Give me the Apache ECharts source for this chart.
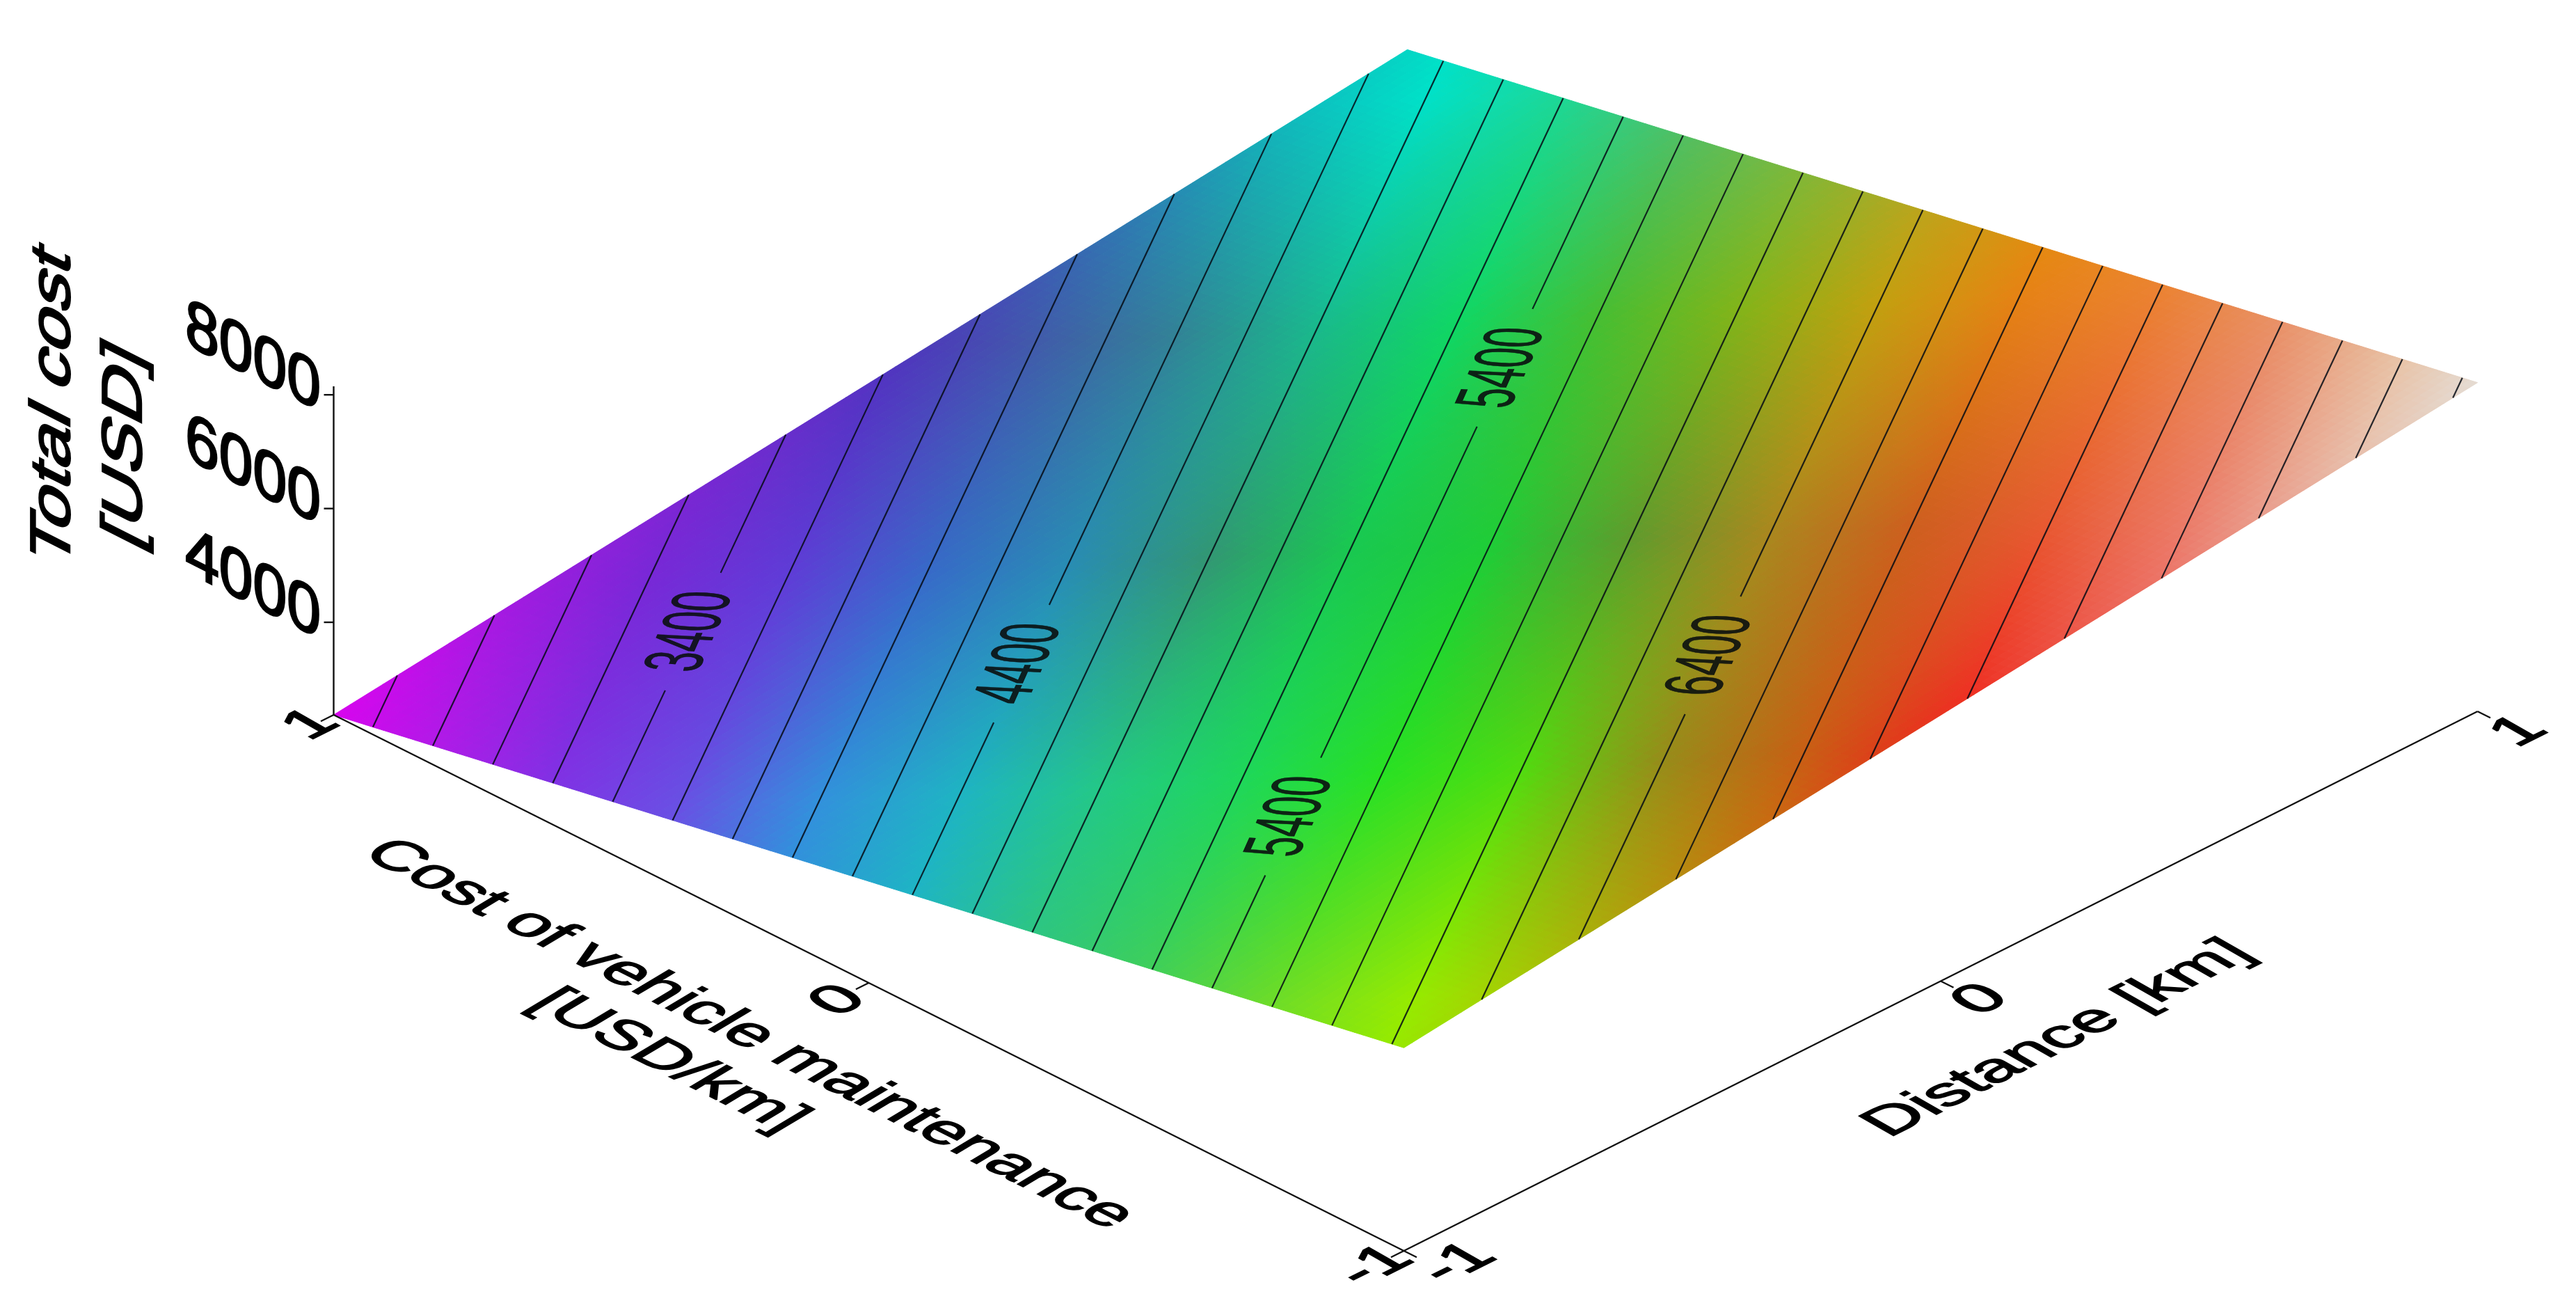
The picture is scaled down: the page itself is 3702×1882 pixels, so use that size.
<!DOCTYPE html>
<html><head><meta charset="utf-8">
<style>html,body{margin:0;padding:0;background:#fff}#c{width:3702px;height:1882px}</style>
<script src="https://cdn.jsdelivr.net/npm/echarts@6/dist/echarts.min.js"></script>
</head><body><div id="c"></div>
<script>
// ---- data ----
const maintenanceValues = [1, 0, -1];
const distanceValues = [-1, 0, 1];
const totalCost = [          // rows: maintenance, columns: distance
  [2469, 3575, 4680],
  [4255, 5360, 6465],
  [6040, 7146, 8251]
];
const contourLevels = [2600,2800,3000,3200,3400,3600,3800,4000,4200,4400,4600,4800,5000,5200,5400,5600,5800,6000,6200,6400,6600,6800,7000,7200,7400,7600,7800,8000,8200];
const contourLabelLevels = [3400, 4400, 5400, 5400, 6400];
const contourLabelDistance = [-0.6096, -0.4692, -0.6062, 0.4239, -0.0221];
const costTicks = [4000, 6000, 8000];
const maintenanceTicks = [1, 0, -1];
const distanceTicks = [-1, 0, 1];
// colour samples: rows follow colourCost, columns follow colourAcross
const colourCost = [2400,2800,3200,3600,4000,4400,4800,5200,5600,6000,6400,6800,7200,7600,8000,8300];
const colourAcross = [-0.9,-0.45,0,0.45,0.9];
const colourTable = [
 [[225,0,240],[225,0,240],[225,0,240],[225,0,240],[225,0,240]],
 [[185,25,235],[185,25,235],[165,25,225],[160,30,220],[160,30,220]],
 [[140,50,235],[130,50,230],[120,40,215],[125,35,205],[120,35,205]],
 [[105,85,230],[105,80,228],[95,60,215],[80,50,190],[80,50,190]],
 [[50,140,220],[50,145,220],[55,105,200],[65,90,170],[40,125,190]],
 [[30,180,200],[30,180,195],[40,140,180],[50,130,150],[15,185,190]],
 [[50,195,130],[35,200,135],[50,150,115],[25,185,140],[0,225,200]],
 [[70,205,90],[30,215,90],[25,200,80],[15,215,100],[30,215,150]],
 [[110,220,40],[40,225,35],[30,205,55],[70,190,50],[85,190,110]],
 [[150,235,0],[80,220,15],[95,155,45],[130,180,25],[130,185,75]],
 [[175,190,5],[150,140,25],[170,135,30],[195,160,15],[180,170,45]],
 [[205,130,10],[200,95,20],[205,95,30],[230,130,20],[225,160,5]],
 [[240,35,30],[240,35,30],[232,90,50],[235,130,50],[235,160,40]],
 [[240,95,100],[240,95,100],[235,125,105],[232,150,105],[232,170,95]],
 [[232,165,170],[232,165,170],[232,190,175],[232,200,165],[232,200,150]],
 [[228,225,220],[228,225,220],[228,225,220],[228,225,220],[228,225,220]]
];
const axisTitleCost = ['Total cost', '[USD]'];
const axisTitleMaintenance = ['Cost of vehicle maintenance', '[USD/km]'];
const axisTitleDistance = ['Distance [km]'];

// ---- oblique projection of the 3D axes onto a hidden pixel-sized cartesian system ----
const W = 3702, H = 1882;
const ORIGIN = [2020, 1024.5], M_VEC = [-769, -385], D_VEC = [771.5, -387.5], Z_PER_UNIT = 0.0817;
const Z_BASE = totalCost[0][0], Z_AXIS_BASE = 2372, Z_AXIS_TOP = 8150;
function project(m, d, z) {
  return [ORIGIN[0] + m * M_VEC[0] + d * D_VEC[0],
          ORIGIN[1] + m * M_VEC[1] + d * D_VEC[1] - (z - Z_BASE) * Z_PER_UNIT];
}
function zAxisPoint(v) { return project(1, -1, Z_BASE + v - Z_AXIS_BASE); }

function costAt(m, d) { // bilinear over the 3x3 table
  const fi = Math.min(1.9999, Math.max(0, 1 - m)), fj = Math.min(1.9999, Math.max(0, d + 1));
  const i = Math.floor(fi), j = Math.floor(fj), a = fi - i, b = fj - j;
  return (1-a)*(1-b)*totalCost[i][j] + (1-a)*b*totalCost[i][j+1] + a*(1-b)*totalCost[i+1][j] + a*b*totalCost[i+1][j+1];
}
const slopeM = (totalCost[0][1] - totalCost[2][1]) / 2, slopeD = (totalCost[1][2] - totalCost[1][0]) / 2;
function acrossAt(m, d) { return (m * slopeD - d * slopeM) / (Math.abs(slopeD) + Math.abs(slopeM)); }
function locate(arr, v) {
  let i = 0; while (i < arr.length - 2 && v > arr[i+1]) i++;
  return [i, Math.max(0, Math.min(1, (v - arr[i]) / (arr[i+1] - arr[i])))];
}
function colourAt(m, d) {
  const [i, a] = locate(colourCost, costAt(m, d)), [j, b] = locate(colourAcross, acrossAt(m, d));
  const c = [0,1,2].map(k => Math.round((1-a)*(1-b)*colourTable[i][j][k] + (1-a)*b*colourTable[i][j+1][k] + a*(1-b)*colourTable[i+1][j][k] + a*b*colourTable[i+1][j+1][k]));
  return 'rgb(' + c.join(',') + ')';
}

// surface cells
const N = 130, cells = [];
for (let i = 0; i < N; i++) for (let j = 0; j < N; j++) {
  const m0 = 1 - 2*i/N, m1 = 1 - 2*(i+1)/N, d0 = -1 + 2*j/N, d1 = -1 + 2*(j+1)/N;
  cells.push({ pts: [[m0,d0],[m1,d0],[m1,d1],[m0,d1]].map(p => project(p[0], p[1], costAt(p[0], p[1]))),
               fill: colourAt((m0+m1)/2, (d0+d1)/2) });
}

// contour segments, found where each level crosses the cost table's grid
const GAP = 0.135, contourSegs = [];
function crossing(m0,d0,m1,d1,L) {
  const z0 = costAt(m0,d0), z1 = costAt(m1,d1);
  if ((z0 - L) * (z1 - L) > 0 || z0 === z1) return null;
  const t = (L - z0) / (z1 - z0);
  return [m0 + (m1-m0)*t, d0 + (d1-d0)*t];
}
contourLevels.forEach(L => {
  const hits = [];
  [[1,-1,-1,-1],[-1,-1,-1,1],[-1,1,1,1],[1,1,1,-1]].forEach(e => {
    const p = crossing(e[0],e[1],e[2],e[3],L); if (p) hits.push(p);
  });
  if (hits.length < 2) return;
  let a = hits[0], b = hits[1];
  if (a[1] > b[1]) { const t = a; a = b; b = t; }
  const mAt = d => a[0] + (b[0]-a[0]) * (d - a[1]) / (b[1]-a[1]);
  const cuts = [];
  contourLabelLevels.forEach((lv, k) => { if (lv === L) cuts.push(contourLabelDistance[k]); });
  cuts.sort((x, y) => x - y);
  let start = a[1];
  cuts.forEach(c => {
    contourSegs.push([mAt(start), start, mAt(c - GAP), c - GAP, L]);
    start = c + GAP;
  });
  contourSegs.push([mAt(start), start, b[0], b[1], L]);
});

// axis lines + ticks
const TICK = 0.012, axisSegs = [];
axisSegs.push([zAxisPoint(Z_AXIS_BASE), zAxisPoint(Z_AXIS_TOP)]);
costTicks.forEach(v => { const p = zAxisPoint(v); axisSegs.push([p, [p[0] - 14, p[1]]]); });
axisSegs.push([project(1,-1,Z_BASE), project(-1,-1,Z_BASE)]);
axisSegs.push([project(-1,-1,Z_BASE), project(-1,1,Z_BASE)]);
maintenanceTicks.forEach(m => axisSegs.push([project(m,-1,Z_BASE), project(m,-1-TICK*2,Z_BASE)]));
distanceTicks.forEach(d => axisSegs.push([project(-1,d,Z_BASE), project(-1-TICK*2,d,Z_BASE)]));

// sheared text: u and v are the images of the text's x and y (down) per font pixel
const F = 100;
const SHEAR = {
  cost:  { u:[0.875,0.438],  v:[0,0.98] },
  costT: { u:[0,-1.07],      v:[0.81,0.41] },
  maintT:{ u:[0.858,0.429],  v:[-0.72,0.43] },
  dist:  { u:[0.87,-0.435],  v:[0.72,0.41] },
  label: { u:[0.23,-0.518],  v:[1.16,0.06] }
};
function shear(name) {
  const {u, v} = SHEAR[name];
  const th = Math.atan2(-u[1], u[0]), ct = Math.cos(th), st = Math.sin(th);
  const ac = v[0]*ct - v[1]*st, ad = v[0]*st + v[1]*ct;
  return { rotation: th, scaleX: Math.hypot(u[0],u[1]), scaleY: ad, skewX: Math.atan(ac/ad) };
}
const texts = [];
function addText(t, pos, name, fill, heavy) { texts.push({ t: String(t), pos, name, fill: fill || '#000', heavy }); }
costTicks.forEach(v => { const p = zAxisPoint(v); addText(v, [p[0]-116, p[1]-52], 'cost', '#000', 3); });
addText(axisTitleCost[0], [78, 584], 'costT', '#000', 3);
addText(axisTitleCost[1], [181, 640], 'costT', '#000', 3);
addText(axisTitleMaintenance[0], [1076, 1486], 'maintT', '#000', 2.5);
addText(axisTitleMaintenance[1], [961, 1524], 'maintT', '#000', 2.5);
addText(axisTitleDistance[0], [2958, 1492], 'dist', '#000', 2.5);
const mTickOffset = [[-32,14],[-43,26],[-41,22]];
maintenanceTicks.forEach((m,i) => { const p = project(m,-1,Z_BASE); addText(m, [p[0]+mTickOffset[i][0], p[1]+mTickOffset[i][1]], 'dist', '#000', 3); });
const dTickOffset = [[78,18],[58,27],[60,29]];
distanceTicks.forEach((d,i) => { const p = project(-1,d,Z_BASE); addText(d, [p[0]+dTickOffset[i][0], p[1]+dTickOffset[i][1]], 'dist', '#000', 3); });
contourLabelLevels.forEach((L,k) => {
  const d = contourLabelDistance[k];
  // maintenance value on this contour at the label's distance
  const m = (function(){ let lo=-1, hi=1; for(let n=0;n<40;n++){ const c=(lo+hi)/2; if(costAt(c,d)>L) lo=c; else hi=c; } return (lo+hi)/2; })();
  addText(L, project(m, d, L), 'label', 'rgba(10,15,15,0.9)', 0.8);
});

function idx(arr) { return arr.map((_, i) => [i, 0]); }
const chart = echarts.init(document.getElementById('c'), null, { renderer: 'canvas' });
chart.setOption({
  backgroundColor: '#ffffff',
  animation: false,
  grid: { left: 0, right: 0, top: 0, bottom: 0 },
  xAxis: { type: 'value', min: 0, max: W, show: false },
  yAxis: { type: 'value', min: 0, max: H, inverse: true, show: false },
  tooltip: { show: false },
  series: [
    { type: 'custom', coordinateSystem: 'cartesian2d', silent: true, progressive: 0, clip: false,
      data: idx(cells), z: 1,
      renderItem: (p, api) => {
        const c = cells[api.value(0)];
        return { type: 'polygon', shape: { points: c.pts.map(q => api.coord(q)) },
                 style: { fill: c.fill, stroke: c.fill, lineWidth: 1 } };
      } },
    { type: 'custom', coordinateSystem: 'cartesian2d', silent: true, progressive: 0, clip: false,
      data: idx(contourSegs), z: 2,
      renderItem: (p, api) => {
        const s = contourSegs[api.value(0)];
        const a = api.coord(project(s[0], s[1], s[4])), b = api.coord(project(s[2], s[3], s[4]));
        return { type: 'line', shape: { x1:a[0], y1:a[1], x2:b[0], y2:b[1] },
                 style: { stroke: 'rgba(5,10,20,0.85)', lineWidth: 2.2 } };
      } },
    { type: 'custom', coordinateSystem: 'cartesian2d', silent: true, progressive: 0, clip: false,
      data: idx(axisSegs), z: 3,
      renderItem: (p, api) => {
        const s = axisSegs[api.value(0)];
        const a = api.coord(s[0]), b = api.coord(s[1]);
        return { type: 'line', shape: { x1:a[0], y1:a[1], x2:b[0], y2:b[1] },
                 style: { stroke: '#111', lineWidth: 2.4 } };
      } },
    { type: 'custom', coordinateSystem: 'cartesian2d', silent: true, progressive: 0, clip: false,
      data: idx(texts), z: 4,
      renderItem: (p, api) => {
        const t = texts[api.value(0)];
        const q = api.coord(t.pos);
        return Object.assign({ type: 'text', x: q[0], y: q[1],
          style: { text: t.t, fontSize: F, fontFamily: '"Liberation Sans", Arial, sans-serif',
                   fill: t.fill, stroke: t.fill, lineWidth: t.heavy, align: 'center', verticalAlign: 'middle' } }, shear(t.name));
      } }
  ]
});
</script></body></html>
